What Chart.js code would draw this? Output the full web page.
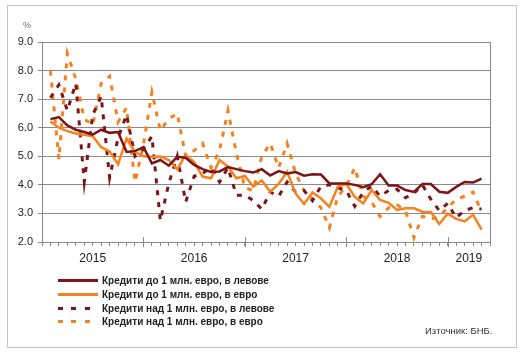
<!DOCTYPE html>
<html>
<head>
<meta charset="utf-8">
<script src="https://cdn.jsdelivr.net/npm/chart.js@4"></script>
<style>
  body { margin: 0; width: 526px; height: 359px; background: #fff; position: relative; overflow: hidden;
         font-family: "Liberation Sans", Arial, sans-serif; }
  #frame { position: absolute; left: 7px; top: 5px; width: 508px; height: 341px; border: 1px solid #c4c4c4; }
  #chart { position: absolute; left: 0; top: 0; }
  #pct { position: absolute; left: 23px; top: 20px; font-size: 9px; color: #666; }
  #legend { position: absolute; left: 58px; top: 274px; }
  .row { height: 13.7px; display: flex; align-items: center; font-size: 10px; font-weight: bold; color: #222; }
  .swatch { width: 40px; height: 3px; margin-right: 4px; }
  #source { position: absolute; left: 425px; top: 325px; font-size: 9.5px; color: #333; }
</style>
</head>
<body>
<div id="frame"></div>
<canvas id="chart" width="526" height="359"></canvas>
<div id="pct">%</div>
<div id="legend"></div>
<div id="source">Източник: БНБ.</div>
<script>
// monthly data, Jan 2015 - Apr 2019
const years = ["2015", "2016", "2017", "2018", "2019"];
const yearBreaks = [12, 24, 36, 48];

const seriesNames = [
  "Кредити до 1 млн. евро, в левове",
  "Кредити до 1 млн. евро, в евро",
  "Кредити над 1 млн. евро, в левове",
  "Кредити над 1 млн. евро, в евро"
];

const upTo1mBgn = [6.30, 6.37, 6.08, 5.93, 5.85, 5.76, 5.93, 5.82, 5.85, 5.15, 5.18, 5.32,
  4.75, 4.87, 4.67, 4.98, 4.95, 4.70, 4.55, 4.45, 4.47, 4.62, 4.55, 4.48,
  4.43, 4.55, 4.33, 4.48, 4.40, 4.45, 4.32, 4.37, 4.36, 4.05, 4.05, 4.05,
  4.00, 3.92, 4.02, 4.37, 3.98, 3.98, 3.82, 3.75, 4.03, 4.03, 3.76, 3.72,
  3.93, 4.10, 4.08, 4.22];

const upTo1mEur = [6.22, 6.00, 5.88, 5.80, 5.75, 5.70, 5.32, 5.17, 4.72, 5.62, 5.15, 5.00,
  4.98, 4.99, 4.87, 4.55, 5.05, 4.80, 4.29, 4.23, 4.87, 4.64, 4.23, 4.31,
  3.94, 4.15, 3.76, 4.03, 4.46, 3.70, 3.33, 3.73, 3.53, 3.23, 3.94, 4.03,
  3.58, 3.35, 3.82, 3.47, 3.37, 3.12, 3.18, 3.18, 3.06, 3.05, 2.63, 2.99,
  2.81, 2.72, 2.96, 2.43];

const over1mBgn = [7.05, 7.50, 6.60, 7.55, 4.10, 6.45, 7.10, 4.25, 5.65, 6.45, 5.00, 5.25,
  5.70, 2.75, 4.05, 5.00, 3.40, 4.30, 4.40, 4.60, 4.10, 4.60, 3.64, 3.64,
  3.45, 3.15, 3.75, 3.60, 4.10, 3.75, 3.80, 3.45, 3.95, 4.00, 3.90, 3.80,
  3.25, 3.75, 3.95, 3.60, 3.80, 3.85, 3.55, 3.70, 4.00, 3.50, 3.10, 3.35,
  2.85, 3.10, 3.20, 3.15];

const over1mEur = [8.00, 4.90, 8.60, 7.70, 6.30, 6.10, 7.55, 7.80, 6.20, 6.70, 4.10, 5.40,
  7.25, 5.90, 6.30, 6.50, 5.00, 5.20, 5.45, 4.60, 5.20, 6.60, 5.10, 3.90,
  3.80, 5.00, 5.45, 4.60, 5.45, 4.40, 3.80, 3.50, 3.20, 2.50, 3.60, 3.95,
  4.60, 3.60, 3.40, 2.90, 3.20, 3.30, 3.10, 2.15, 2.90, 2.80, 2.90, 3.20,
  3.50, 3.60, 3.75, 3.05];

const darkRed = "#7b1517";
const orange = "#f5821f";
const axisGrey = "#8a8a8a";
const lastX = upTo1mBgn.length + 1;

// year label in the middle of each year's span
const yearCenters = years.map((y, i) => {
  const from = i === 0 ? 0 : yearBreaks[i - 1];
  const to = i < yearBreaks.length ? yearBreaks[i] : lastX;
  return (from + to) / 2;
});

const toPoints = (arr) => arr.map((v, i) => ({ x: i + 1, y: v }));

const majorTicks = {
  id: "majorTicks",
  afterDraw(chart) {
    const sx = chart.scales.x;
    const ctx = chart.ctx;
    ctx.save();
    ctx.strokeStyle = axisGrey;
    ctx.lineWidth = 1;
    yearBreaks.forEach((v) => {
      const px = Math.round(sx.getPixelForValue(v)) + 0.5;
      ctx.beginPath();
      ctx.moveTo(px, sx.top - 5);
      ctx.lineTo(px, sx.top + 5);
      ctx.stroke();
    });
    ctx.restore();
  }
};

const chart = new Chart(document.getElementById("chart"), {
  type: "line",
  data: {
    datasets: [
      { label: seriesNames[0], data: toPoints(upTo1mBgn), borderColor: darkRed, borderWidth: 2.5 },
      { label: seriesNames[1], data: toPoints(upTo1mEur), borderColor: orange, borderWidth: 2.5 },
      { label: seriesNames[2], data: toPoints(over1mBgn), borderColor: darkRed, borderWidth: 3, borderDash: [5, 7] },
      { label: seriesNames[3], data: toPoints(over1mEur), borderColor: orange, borderWidth: 3, borderDash: [5, 7] }
    ]
  },
  options: {
    responsive: false,
    animation: false,
    elements: { point: { radius: 0 }, line: { tension: 0, borderCapStyle: "butt" } },
    layout: { padding: { left: 12, top: 42, right: 36, bottom: 91 } },
    plugins: { legend: { display: false }, tooltip: { enabled: false } },
    scales: {
      y: {
        min: 2, max: 9,
        afterFit: (s) => { s.width = 30; },
        ticks: { stepSize: 1, callback: (v) => v.toFixed(1), color: "#222", font: { size: 11 }, padding: 5 },
        grid: { color: axisGrey, tickLength: 4 },
        border: { color: axisGrey }
      },
      yR: {
        position: "right", min: 2, max: 9,
        afterFit: (s) => { s.width = 0; },
        ticks: { display: false },
        grid: { display: false, drawTicks: false },
        border: { color: axisGrey }
      },
      x: {
        type: "linear", min: 0, max: lastX,
        afterBuildTicks: (s) => {
          const t = [];
          for (let i = 0; i <= lastX; i++) t.push({ value: i });
          s.ticks = t;
        },
        afterFit: (s) => { s.height = 4; },
        ticks: { display: false, autoSkip: false },
        grid: { drawOnChartArea: false, tickLength: 4, color: axisGrey },
        border: { color: axisGrey }
      },
      xYear: {
        type: "linear", position: "bottom", min: 0, max: lastX,
        afterBuildTicks: (s) => { s.ticks = yearCenters.map((v) => ({ value: v })); },
        afterFit: (s) => { s.height = 22; },
        ticks: { autoSkip: false, maxRotation: 0, callback: (v, i) => years[i], color: "#222", font: { size: 12 }, padding: 5 },
        grid: { display: false, drawTicks: false },
        border: { display: false }
      }
    }
  },
  plugins: [majorTicks]
});

// legend below the chart, one series per row
const legend = document.getElementById("legend");
chart.data.datasets.forEach((ds) => {
  const row = document.createElement("div");
  row.className = "row";
  const sw = document.createElement("div");
  sw.className = "swatch";
  if (ds.borderDash) {
    sw.style.width = "33px";
    sw.style.marginRight = "11px";
    sw.style.background = `repeating-linear-gradient(to right, ${ds.borderColor} 0 5px, transparent 5px 13.5px)`;
  } else {
    sw.style.background = ds.borderColor;
  }
  row.appendChild(sw);
  row.appendChild(document.createTextNode(ds.label));
  legend.appendChild(row);
});
</script>
</body>
</html>
